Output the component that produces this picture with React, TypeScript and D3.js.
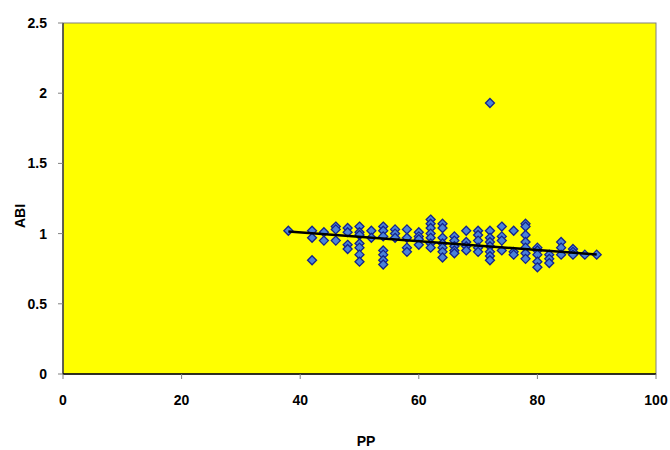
import React from "react";
import * as d3 from "d3";

const ppValues: number[] = [
  38,
  42, 42, 42,
  44, 44,
  46, 46, 46,
  48, 48, 48, 48,
  50, 50, 50, 50, 50, 50, 50,
  52, 52,
  54, 54, 54, 54, 54, 54, 54,
  56, 56, 56,
  58, 58, 58, 58,
  60, 60, 60, 60,
  62, 62, 62, 62, 62, 62, 62,
  64, 64, 64, 64, 64, 64, 64,
  66, 66, 66, 66, 66,
  68, 68, 68, 68,
  70, 70, 70, 70, 70,
  72, 72, 72, 72, 72, 72, 72, 72,
  74, 74, 74, 74,
  76, 76, 76,
  78, 78, 78, 78, 78, 78, 78,
  80, 80, 80, 80, 80,
  82, 82, 82,
  84, 84, 84,
  86, 86, 86,
  88,
  90,
];

const abiValues: number[] = [
  1.02,
  1.02, 0.97, 0.81,
  1.01, 0.95,
  1.05, 1.03, 0.95,
  1.04, 1.01, 0.92, 0.89,
  1.05, 1.01, 0.99, 0.93, 0.9, 0.85, 0.8,
  1.02, 0.97,
  1.05, 1.02, 0.98, 0.88, 0.85, 0.81, 0.78,
  1.03, 1.0, 0.97,
  1.03, 0.97, 0.9, 0.87,
  1.01, 0.98, 0.96, 0.92,
  1.1, 1.07, 1.04, 1.0, 0.97, 0.93, 0.9,
  1.07, 1.04, 0.97, 0.93, 0.9, 0.87, 0.83,
  0.98, 0.95, 0.91, 0.88, 0.86,
  1.02, 0.94, 0.91, 0.88,
  1.02, 0.99, 0.95, 0.9, 0.87,
  1.93, 1.02, 0.97, 0.94, 0.91, 0.87, 0.84, 0.81,
  1.05, 0.98, 0.95, 0.88,
  1.02, 0.87, 0.85,
  1.07, 1.05, 0.99, 0.94, 0.9, 0.86, 0.82,
  0.9, 0.88, 0.85, 0.8, 0.76,
  0.85, 0.82, 0.79,
  0.94, 0.9, 0.85,
  0.89, 0.87, 0.85,
  0.85,
  0.85,
];

// Trend line (start and end points)
const trendPP: number[] = [38, 90];
const trendABI: number[] = [1.015, 0.852];

const xTicks: number[] = [0, 20, 40, 60, 80, 100];
const yTicks: number[] = [0, 0.5, 1, 1.5, 2, 2.5];
const xTitle = "PP";
const yTitle = "ABI";

export default function App() {
  const left = 63, right = 656, top = 23, bottom = 374;
  const x = d3.scaleLinear().domain([0, 100]).range([left, right]);
  const y = d3.scaleLinear().domain([0, 2.5]).range([bottom, top]);

  const line = d3
    .line<number>()
    .x((_, i) => x(trendPP[i]))
    .y((d) => y(d));

  const r = 4.5;
  const diamond = `M0,${-r}L${r},0L0,${r}L${-r},0Z`;
  const font = "'Liberation Sans', Arial, sans-serif";

  return (
    <div style={{ position: "absolute", left: 0, top: 0 }}>
      <svg width={670} height={450} style={{ display: "block", background: "#fff" }}>
        <rect x={left} y={top} width={right - left} height={bottom - top} fill="#ffff00" stroke="#808080" strokeWidth={1} />
        <line x1={left} x2={left} y1={top} y2={bottom} stroke="#404040" strokeWidth={1.5} />
        <line x1={left} x2={right} y1={bottom} y2={bottom} stroke="#000" strokeWidth={1.5} />
        {yTicks.map((t) => (
          <g key={"y" + t}>
            <line x1={left - 5} x2={left} y1={y(t)} y2={y(t)} stroke="#808080" />
            <text x={47} y={y(t)} dy="0.36em" textAnchor="end" fontFamily={font} fontWeight="bold" fontSize={14} fill="#000">
              {t}
            </text>
          </g>
        ))}
        {xTicks.map((t) => (
          <g key={"x" + t}>
            <line x1={x(t)} x2={x(t)} y1={bottom} y2={bottom + 5} stroke="#808080" />
            <text x={x(t)} y={405} textAnchor="middle" fontFamily={font} fontWeight="bold" fontSize={14} fill="#000">
              {t}
            </text>
          </g>
        ))}
        {ppValues.map((p, i) => (
          <path key={i} d={diamond} transform={`translate(${x(p)},${y(abiValues[i])})`} fill="#4a82d8" stroke="#14248c" strokeWidth={1.3} />
        ))}
        <path d={line(trendABI) as string} fill="none" stroke="#000" strokeWidth={2.5} />
        <text x={366} y={446} textAnchor="middle" fontFamily={font} fontWeight="bold" fontSize={14} fill="#000">
          {xTitle}
        </text>
        <text transform="translate(25,216) rotate(-90)" textAnchor="middle" fontFamily={font} fontWeight="bold" fontSize={14} fill="#000">
          {yTitle}
        </text>
      </svg>
    </div>
  );
}
